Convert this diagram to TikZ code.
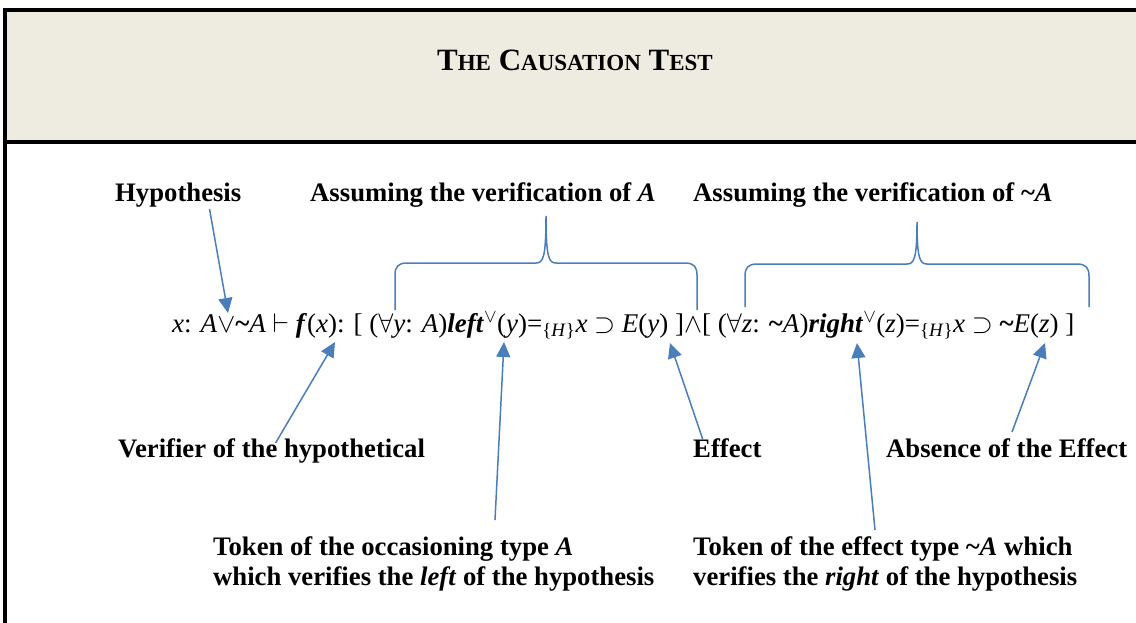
\RequirePackage{fix-cm}
\documentclass[tikz,border=0pt]{standalone}
\usepackage{fontspec}
\setmainfont{Liberation Serif}
\usetikzlibrary{positioning,arrows.meta}
\definecolor{callout}{HTML}{4A7EBB}
\definecolor{paper}{HTML}{EEEBE0}
\newcommand{\bi}[1]{\textbf{\textit{#1}}}
\newcommand{\tld}{\textbf{\textasciitilde}}
\newcommand{\smc}[1]{{\fontsize{23}{28}\selectfont #1}}
\newcommand{\hsub}{\textsubscript{\{\textit{H}\}}}
\newcommand{\vsup}{\textsuperscript{$\vee$}}

\begin{document}
\begin{tikzpicture}[x=1pt,y=-1pt,font=\fontsize{27}{30}\selectfont,
  tag/.style={font=\fontsize{26.7}{30}\selectfont\bfseries,inner sep=0pt,anchor=base west},
  pointer/.style={callout,line width=1.5pt,-{Triangle[length=15pt,width=14pt]}},
  brace/.style={callout,line width=1.5pt}]
\useasboundingbox (0,0) rectangle (1136,623);
% header band
\fill[paper] (5,10) rectangle (1140,142);
\draw[line width=4pt] (1140,10) -- (5,10) -- (5,625);
\draw[line width=4pt] (5,142) -- (1140,142);
\node[font=\fontsize{31}{36}\selectfont\bfseries] (title) at (575,60)
  {T\smc{HE} C\smc{AUSATION} T\smc{EST}};

% the formula
\node[anchor=base west,inner sep=0pt] (formula) at (172,332)
  {\textit{x}: \textit{A}$\vee$\tld\textit{A} $\vdash$ \bi{f}(\textit{x}): [ ($\forall$\textit{y}: \textit{A})\bi{left}\vsup(\textit{y})=\hsub\textit{x} $\supset$ \textit{E}(\textit{y}) ]$\wedge$[ ($\forall$\textit{z}: \tld\textit{A})\bi{right}\vsup(\textit{z})=\hsub\textit{x} $\supset$ \tld\textit{E}(\textit{z}) ]};

% labels
\node[tag] (hyp) at (115,202) {Hypothesis};
\node[tag] (asmA) at (310,202) {Assuming the verification of \textit{A}};
\node[tag] (asmNA) at (693,202) {Assuming the verification of \textasciitilde\textit{A}};
\node[tag] (verif) at (118,457) {Verifier of the hypothetical};
\node[tag] (eff) at (693,457) {Effect};
\node[tag] (absent) at (886,457) {Absence of the Effect};
\node[tag,anchor=north west,align=left] (tokA) at (213,536)
  {Token of the occasioning type \textit{A}\\which verifies the \textit{left} of the hypothesis};
\node[tag,anchor=north west,align=left] (tokNA) at (693,536)
  {Token of the effect type \textasciitilde\textit{A} which\\verifies the \textit{right} of the hypothesis};

% braces
\draw[brace] (395,310) -- (395,275) .. controls (395,267) and (398,263) .. (407,263)
  -- (536,263) .. controls (543,263) and (546,258) .. (546,216)
  .. controls (546,258) and (549,263) .. (556,263) -- (685,263)
  .. controls (694,263) and (697,267) .. (697,275) -- (697,310);
\draw[brace] (745,307) -- (745,276) .. controls (745,268) and (748,264) .. (757,264)
  -- (907,264) .. controls (914,264) and (917,259) .. (917,222)
  .. controls (917,259) and (920,264) .. (927,264) -- (1077,264)
  .. controls (1086,264) and (1089,268) .. (1089,276) -- (1089,307);

% pointers
\coordinate (tHyp) at (228,313);
\coordinate (tVerif) at (335,342);
\coordinate (tTokA) at (504,342);
\coordinate (tEff) at (670,343);
\coordinate (tTokNA) at (857,343);
\coordinate (tAbsent) at (1045,343);
\draw[pointer] ([xshift=-32pt,yshift=-1pt]hyp.south east) -- (tHyp);
\draw[pointer] ([xshift=4pt,yshift=-5pt]verif.north) -- (tVerif);
\draw[pointer] ([shift={(282pt,16pt)}]tokA.north west) -- (tTokA);
\draw[pointer] ([shift={(10pt,-2pt)}]eff.north west) -- (tEff);
\draw[pointer] ([shift={(182pt,6pt)}]tokNA.north west) -- (tTokNA);
\draw[pointer] ([shift={(126pt,6pt)}]absent.north west) -- (tAbsent);
\end{tikzpicture}
\end{document}
